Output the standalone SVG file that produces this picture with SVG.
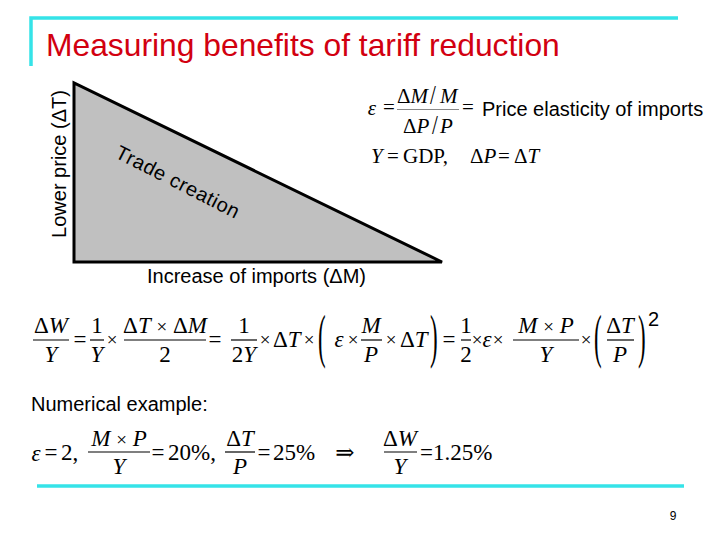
<svg xmlns="http://www.w3.org/2000/svg" width="720" height="540" viewBox="0 0 720 540">
<style>
.sans{font-family:"Liberation Sans",Arial,sans-serif;font-size:20px;fill:#000}
.m{font-family:"Liberation Serif","Times New Roman","DejaVu Serif",serif;font-size:23px;fill:#000}
.t{font-family:"Liberation Serif","Times New Roman","DejaVu Serif",serif;font-size:21px;fill:#000}
.x{font-family:"Liberation Serif","Times New Roman","DejaVu Serif",serif;font-size:19px;fill:#000;text-anchor:middle}
.i{font-style:italic}
.c{text-anchor:middle}
.bar{stroke:#000;stroke-width:1.2}
.cy{stroke:#35e3e8;stroke-width:3.5;fill:none}
</style>
<rect width="720" height="540" fill="#fff"/>
<g id="frame">
<path class="cy" d="M31 66 V18 H678"/>
<line class="cy" x1="37" y1="486" x2="684" y2="486"/>
</g>
<g id="title">
<text x="46" y="56" font-family="Liberation Sans,Arial,sans-serif" font-size="31.8" fill="#d20010">Measuring benefits of tariff reduction</text>
</g>
<g id="triangle">
<polygon points="74,83 74,262 442,262" fill="#c0c0c0" stroke="#000" stroke-width="3"/>
<text class="sans" letter-spacing="0.6" transform="translate(114,157) rotate(27)">Trade creation</text>
</g>
<g id="axis-labels">
<text class="sans c" transform="translate(66,164) rotate(-90)">Lower price (ΔT)</text>
<text class="sans" x="147" y="283">Increase of imports (ΔM)</text>
</g>
<g id="elasticity">
<text class="t i c" x="372" y="115">ε</text>
<text class="t c" x="389" y="114">=</text>
<text class="t" x="397" y="103">Δ<tspan class="i">M</tspan></text>
<text class="t" transform="translate(430,104) scale(1,1.35)">/</text>
<text class="t i" x="440" y="103">M</text>
<line x1="397" y1="109.5" x2="459" y2="109.5" stroke="#888" stroke-width="1"/>
<text class="t" x="403" y="133">Δ<tspan class="i">P</tspan></text>
<text class="t" transform="translate(432,134) scale(1,1.35)">/</text>
<text class="t i" x="440" y="133">P</text>
<text class="t c" x="468" y="114" fill="#555">=</text>
<text class="sans" x="482" y="116">Price elasticity of imports</text>
<text class="t" y="163"><tspan class="i" x="371">Y</tspan><tspan x="387">=</tspan><tspan x="403">GDP,</tspan><tspan x="470">Δ</tspan><tspan class="i">P</tspan><tspan x="498">=</tspan><tspan x="514">Δ</tspan><tspan class="i">T</tspan></text>
</g>
<g id="welfare-formula">
<text class="m c" x="51" y="333">Δ<tspan class="i">W</tspan></text>
<line class="bar" x1="33" y1="340" x2="69" y2="340"/>
<text class="m c i" x="51" y="362">Y</text>
<text class="m c" x="80" y="347">=</text>
<text class="m c" x="97" y="333">1</text>
<line class="bar" x1="90" y1="340" x2="104" y2="340"/>
<text class="m c i" x="97" y="362">Y</text>
<text class="x" x="112" y="346">×</text>
<text class="m c" x="165" y="333">Δ<tspan class="i">T</tspan> <tspan font-size="19">×</tspan> Δ<tspan class="i">M</tspan></text>
<line class="bar" x1="124" y1="340" x2="206" y2="340"/>
<text class="m c" x="165" y="362">2</text>
<text class="m c" x="215" y="347">=</text>
<text class="m c" x="244" y="333">1</text>
<line class="bar" x1="231" y1="340" x2="257" y2="340"/>
<text class="m c" x="244" y="362">2<tspan class="i">Y</tspan></text>
<text class="x" x="265" y="346">×</text>
<text class="m" x="273" y="347">Δ<tspan class="i">T</tspan></text>
<text class="x" x="309" y="346">×</text>
<text class="m" transform="translate(318,356) scale(1,2.6)">(</text>
<text class="m c i" x="339" y="347">ε</text>
<text class="x" x="353" y="346">×</text>
<text class="m c i" x="371" y="333">M</text>
<line class="bar" x1="361" y1="340" x2="382" y2="340"/>
<text class="m c i" x="371" y="362">P</text>
<text class="x" x="391" y="346">×</text>
<text class="m" x="400" y="347">Δ<tspan class="i">T</tspan></text>
<text class="m" transform="translate(430,356) scale(1,2.6)">)</text>
<text class="m c" x="449" y="347">=</text>
<text class="m c" x="466" y="333">1</text>
<line class="bar" x1="461" y1="340" x2="471" y2="340"/>
<text class="m c" x="466" y="362">2</text>
<text class="x" x="477" y="346">×</text>
<text class="m c i" x="487" y="347">ε</text>
<text class="x" x="498" y="346">×</text>
<text class="m c" x="546" y="333"><tspan class="i">M</tspan> <tspan font-size="19">×</tspan> <tspan class="i">P</tspan></text>
<line class="bar" x1="513" y1="340" x2="579" y2="340"/>
<text class="m c i" x="546" y="362">Y</text>
<text class="x" x="586" y="346">×</text>
<text class="m" transform="translate(594,356) scale(1,2.6)">(</text>
<text class="m c" x="620" y="333">Δ<tspan class="i">T</tspan></text>
<line class="bar" x1="607" y1="340" x2="634" y2="340"/>
<text class="m c i" x="620" y="362">P</text>
<text class="m" transform="translate(638,356) scale(1,2.6)">)</text>
<text class="sans" x="648" y="326">2</text>
</g>
<g id="numerical">
<text class="sans" x="31" y="411">Numerical example:</text>
<text class="m c i" x="36" y="461">ε</text>
<text class="m c" x="51" y="460">=</text>
<text class="m" x="61" y="460">2,</text>
<text class="m c" x="119" y="446"><tspan class="i">M</tspan> <tspan font-size="19">×</tspan> <tspan class="i">P</tspan></text>
<line class="bar" x1="88" y1="452" x2="150" y2="452"/>
<text class="m c i" x="119" y="474">Y</text>
<text class="m c" x="158" y="460">=</text>
<text class="m" x="168" y="460">20%,</text>
<text class="m c" x="240" y="446">Δ<tspan class="i">T</tspan></text>
<line class="bar" x1="225" y1="452" x2="255" y2="452"/>
<text class="m c i" x="240" y="474">P</text>
<text class="m c" x="264" y="460">=</text>
<text class="m" x="273" y="460">25%</text>
<text class="m c" x="345" y="460">⇒</text>
<text class="m c" x="400" y="446">Δ<tspan class="i">W</tspan></text>
<line class="bar" x1="384" y1="452" x2="417" y2="452"/>
<text class="m c i" x="400" y="474">Y</text>
<text class="m" x="420" y="460">=1.25%</text>
</g>
<g id="page">
<text x="673" y="520" font-family="Liberation Sans,Arial,sans-serif" font-size="12" text-anchor="middle">9</text>
</g>
</svg>
